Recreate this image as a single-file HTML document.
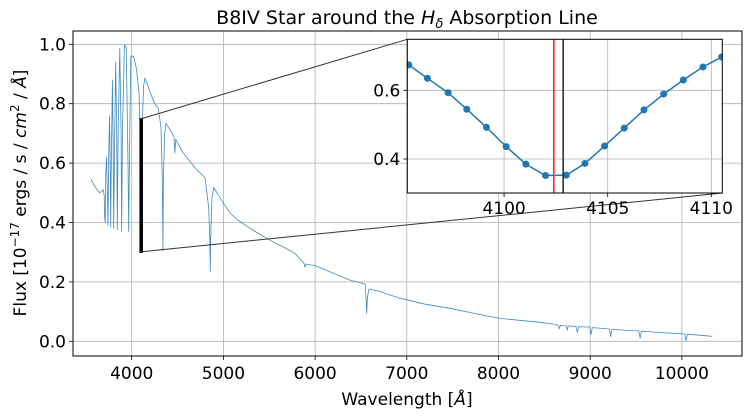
<!DOCTYPE html>
<html><head><meta charset="utf-8">
<style>
body{margin:0;background:#fff;}
svg{display:block;font-family:"DejaVu Sans","Liberation Sans",sans-serif;}
</style></head>
<body>
<svg id="chart" width="753" height="418" viewBox="0 0 753 418" xmlns="http://www.w3.org/2000/svg">
<rect width="753" height="418" fill="#fff"/>
<g id="main-grid"></g>
<g id="main-series"></g>
<g id="zoom-indicators"></g>
<g id="inset"></g>
<rect x="73" y="31" width="669" height="325" fill="none" stroke="#000" stroke-width="1"/>
<g id="main-ticks"></g>
<text x="407" y="24" font-size="19" text-anchor="middle">B8IV Star around the <tspan font-style="italic">H</tspan><tspan font-style="italic" font-size="13" dy="4">δ</tspan><tspan dy="-4"> Absorption Line</tspan></text>
<text x="407" y="405" font-size="17" text-anchor="middle">Wavelength [<tspan font-style="italic">Å</tspan>]</text>
<text transform="translate(26,193) rotate(-90)" font-size="17" text-anchor="middle">Flux [10<tspan font-size="12" dy="-7">−17</tspan><tspan dy="7"> ergs / s / </tspan><tspan font-style="italic">cm</tspan><tspan font-size="12" dy="-7">2</tspan><tspan dy="7"> / </tspan><tspan font-style="italic">Å</tspan>]</text>
</svg>
<script>
const wl=[3557,3600,3650,3690,3700,3705,3712,3716,3725,3735,3742,3748,3758,3765,3771,3778,3790,3798,3804,3812,3825,3836,3843,3852,3870,3884,3891,3900,3920,3940,3950,3960,3967,3975,3990,4020,4050,4080,4092,4101,4112,4130,4145,4200,4250,4290,4320,4334,4340,4346,4360,4374,4420,4460,4471,4480,4548,4694,4800,4840,4852,4857,4862,4875,4894,4950,5000,5072,5150,5290,5400,5509,5650,5781,5880,5890,5900,6000,6163,6380,6545,6555,6563,6571,6588,6700,6926,7200,7471,7800,8016,8452,8600,8650,8663,8676,8700,8740,8750,8760,8800,8845,8859,8873,8950,8995,9009,9023,9150,9210,9224,9238,9450,9530,9544,9558,9700,9900,10030,10045,10060,10325];
const flux=[0.545,0.52,0.5,0.51,0.49,0.42,0.40,0.55,0.62,0.5,0.39,0.6,0.76,0.6,0.385,0.6,0.88,0.65,0.38,0.65,0.94,0.7,0.375,0.7,0.987,0.7,0.37,0.72,0.998,0.99,0.8,0.6,0.37,0.6,0.96,0.96,0.92,0.84,0.7,0.35,0.7,0.86,0.887,0.84,0.8,0.785,0.72,0.55,0.305,0.55,0.7,0.734,0.711,0.69,0.634,0.68,0.64,0.583,0.55,0.45,0.35,0.234,0.35,0.48,0.518,0.49,0.465,0.432,0.41,0.38,0.36,0.34,0.318,0.296,0.262,0.25,0.26,0.255,0.234,0.206,0.193,0.15,0.094,0.15,0.176,0.168,0.145,0.125,0.111,0.09,0.077,0.064,0.058,0.054,0.042,0.054,0.053,0.052,0.038,0.052,0.051,0.05,0.03,0.049,0.048,0.048,0.023,0.046,0.043,0.041,0.016,0.04,0.036,0.035,0.01,0.034,0.031,0.027,0.025,0.002,0.024,0.017];
const xTicks=[4000,5000,6000,7000,8000,9000,10000];
const yTicks=[0.0,0.2,0.4,0.6,0.8,1.0];
const yTickLabels=["0.0","0.2","0.4","0.6","0.8","1.0"];
const insetWl=[4095.4,4096.3,4097.3,4098.2,4099.15,4100.1,4101.05,4102.0,4103.0,4103.9,4104.85,4105.8,4106.75,4107.7,4108.65,4109.6,4110.5];
const insetFlux=[0.674,0.635,0.593,0.545,0.492,0.436,0.385,0.352,0.353,0.387,0.438,0.490,0.543,0.589,0.630,0.668,0.697];
const insetXTicks=[4100,4105,4110];
const insetYTicks=[0.4,0.6];
const insetYTickLabels=["0.4","0.6"];
const insetXRange=[4095.33,4110.53];
const insetYRange=[0.301,0.7485];
const redLineWl=[4102.4];
const blackLineWl=[4102.85];

const NS="http://www.w3.org/2000/svg";
function mk(tag,attrs,parent){const e=document.createElementNS(NS,tag);for(const k in attrs)e.setAttribute(k,attrs[k]);parent.appendChild(e);return e;}
const L=73,R=742,T=31,B=356;
const X=v=>131.7+(v-4000)*0.0917;
const Y=v=>341.3-v*297;
const IL=407.3,IR=722.3,IT=39.3,IB=193;
const IX=v=>IL+(v-insetXRange[0])/(insetXRange[1]-insetXRange[0])*(IR-IL);
const IY=v=>IB-(v-insetYRange[0])/(insetYRange[1]-insetYRange[0])*(IB-IT);

const grid=document.getElementById('main-grid');
const ticks=document.getElementById('main-ticks');
xTicks.forEach(t=>{
  const g=mk('line',{x1:X(t),x2:X(t),y1:T,y2:B,stroke:'#b0b0b0','stroke-width':0.8},grid);
  
  
  const tk=mk('line',{x1:X(t),x2:X(t),y1:B,y2:B+4,stroke:'#000','stroke-width':0.8},ticks);
  
  
  const tx=mk('text',{x:X(t),y:B+23,'font-size':17,'text-anchor':'middle'},ticks);
  tx.textContent=String(t);
  
  
});
yTicks.forEach((t,i)=>{
  const g=mk('line',{x1:L,x2:R,y1:Y(t),y2:Y(t),stroke:'#b0b0b0','stroke-width':0.8},grid);
  
  
  const tk=mk('line',{x1:L-4,x2:L,y1:Y(t),y2:Y(t),stroke:'#000','stroke-width':0.8},ticks);
  
  
  const tx=mk('text',{x:L-7,y:Y(t)+6,'font-size':17,'text-anchor':'end'},ticks);
  tx.textContent=yTickLabels[i];
  
  
});

const ser=document.getElementById('main-series');
const p=mk('polyline',{points:wl.map((w,i)=>X(w).toFixed(1)+','+Y(flux[i]).toFixed(1)).join(' '),fill:'none',stroke:'#1f77b4','stroke-width':0.8,'stroke-opacity':0.85,'stroke-linejoin':'round'},ser);



const zi=document.getElementById('zoom-indicators');
const rx1=X(insetXRange[0]),rx2=X(insetXRange[1]),ry1=Y(insetYRange[1]),ry2=Y(insetYRange[0]);
const zr=mk('rect',{x:rx1,y:ry1,width:Math.max(rx2-rx1,1.5),height:ry2-ry1,fill:'none',stroke:'#000','stroke-width':2},zi);


const c1=mk('line',{x1:rx1,y1:ry1,x2:IL,y2:IT,stroke:'#333','stroke-width':1},zi);


const c2=mk('line',{x1:rx1,y1:ry2,x2:IR,y2:IB,stroke:'#333','stroke-width':1},zi);



const ins=document.getElementById('inset');
const bg=mk('rect',{x:IL,y:IT,width:IR-IL,height:IB-IT,fill:'#fff'},ins);


insetXTicks.forEach(t=>{
  const g=mk('line',{x1:IX(t),x2:IX(t),y1:IT,y2:IB,stroke:'#b0b0b0','stroke-width':0.8},ins);
  
  
  const tk=mk('line',{x1:IX(t),x2:IX(t),y1:IB,y2:IB+4,stroke:'#000','stroke-width':0.8},ins);
  
  
  const tx=mk('text',{x:IX(t),y:IB+21,'font-size':17,'text-anchor':'middle'},ins);
  tx.textContent=String(t);
  
  
});
insetYTicks.forEach((t,i)=>{
  const g=mk('line',{x1:IL,x2:IR,y1:IY(t),y2:IY(t),stroke:'#b0b0b0','stroke-width':0.8},ins);
  
  
  const tk=mk('line',{x1:IL-4,x2:IL,y1:IY(t),y2:IY(t),stroke:'#000','stroke-width':0.8},ins);
  
  
  const tx=mk('text',{x:IL-7,y:IY(t)+6,'font-size':17,'text-anchor':'end'},ins);
  tx.textContent=insetYTickLabels[i];
  
  
});
const clip=mk('clipPath',{id:'insetclip'},ins);
mk('rect',{x:IL,y:IT,width:IR-IL,height:IB-IT},clip);
const ig=mk('g',{'clip-path':'url(#insetclip)'},ins);
const ip=mk('polyline',{points:insetWl.map((w,i)=>IX(w).toFixed(1)+','+IY(insetFlux[i]).toFixed(1)).join(' '),fill:'none',stroke:'#1f77b4','stroke-width':1.5},ig);


insetWl.forEach((w,i)=>{
  const c=mk('circle',{cx:IX(w),cy:IY(insetFlux[i]),r:3.5,fill:'#1f77b4'},ig);
  
  
});
redLineWl.forEach(w=>{
  const l=mk('line',{x1:IX(w),x2:IX(w),y1:IT,y2:IB,stroke:'#ff2020','stroke-width':1.5},ig);
  
  
});
blackLineWl.forEach(w=>{
  const l=mk('line',{x1:IX(w),x2:IX(w),y1:IT,y2:IB,stroke:'#222','stroke-width':1.5},ig);
  
  
});
const fr=mk('rect',{x:IL,y:IT,width:IR-IL,height:IB-IT,fill:'none',stroke:'#000','stroke-width':1},ins);


</script>
</body></html>
